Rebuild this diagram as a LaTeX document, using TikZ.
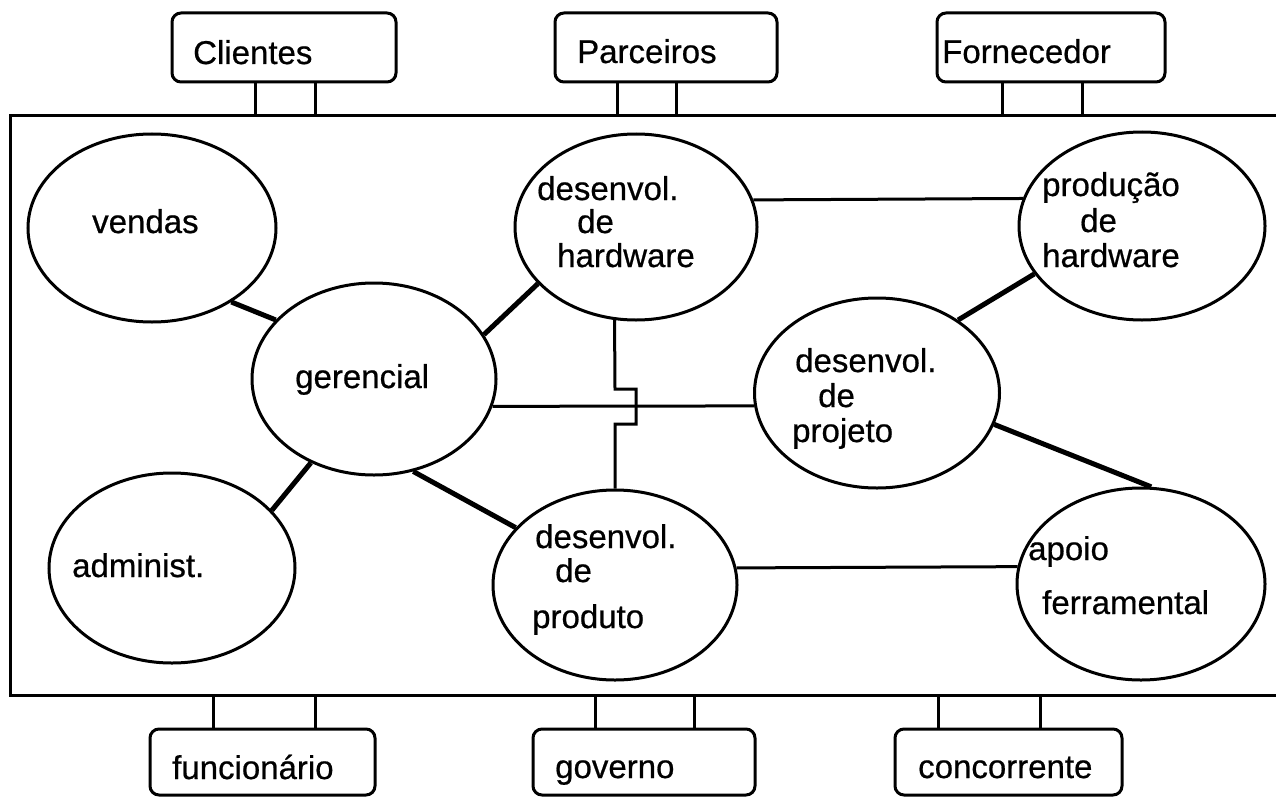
\documentclass[tikz,border=0pt]{standalone}
\usepackage{fontspec}
\setmainfont{Liberation Sans}
\newfontfamily\heavysans{Liberation Sans}[FakeBold=0.6]
\usetikzlibrary{shapes.geometric,calc}
\begin{document}
\begin{tikzpicture}[x=1pt,y=-1pt,
  oval/.style={draw, ellipse, line width=3pt, inner sep=0pt},
  ebox/.style={draw, rectangle, rounded corners=9pt, line width=3pt, inner sep=0pt},
  txt/.style={anchor=base west, inner sep=0pt, font=\heavysans\fontsize{33}{40}\selectfont},
  thinline/.style={line width=3pt},
  thickline/.style={line width=5pt}]
\useasboundingbox (0,0) rectangle (1276,797);

% frame (right side open)
\draw[thinline] (1276,116) -- (10,116) -- (10,695) -- (1276,695);

% top boxes
\node[ebox, minimum width=224pt, minimum height=69pt] (clientes) at (284,47.5) {};
\node[ebox, minimum width=222pt, minimum height=69pt] (parceiros) at (666,47.5) {};
\node[ebox, minimum width=228pt, minimum height=69pt] (fornecedor) at (1051,47.5) {};
\node[txt] (tclientes) at (193,64) {Clientes};
\node[txt] (tparceiros) at (577,63) {Parceiros};
\node[txt] (tfornecedor) at (942,63) {Fornecedor};
\draw[thinline] (clientes.south) ++(-29,0) -- ++(0,34);
\draw[thinline] (clientes.south) ++(31,0) -- ++(0,34);
\draw[thinline] (parceiros.south) ++(-49,0) -- ++(0,34);
\draw[thinline] (parceiros.south) ++(10,0) -- ++(0,34);
\draw[thinline] (fornecedor.south) ++(-49,0) -- ++(0,34);
\draw[thinline] (fornecedor.south) ++(31,0) -- ++(0,34);

% bottom boxes
\node[ebox, minimum width=225pt, minimum height=66pt] (funcionario) at (262.5,762) {};
\node[ebox, minimum width=222pt, minimum height=66pt] (governo) at (644,762) {};
\node[ebox, minimum width=227pt, minimum height=66pt] (concorrente) at (1008.5,762) {};
\node[txt] (tfuncionario) at (172,779) {funcionário};
\node[txt] (tgoverno) at (555,778) {governo};
\node[txt] (tconcorrente) at (918,778) {concorrente};
\draw[thinline] (funcionario.north) ++(-49.5,0) -- ++(0,-34);
\draw[thinline] (funcionario.north) ++(52.5,0) -- ++(0,-34);
\draw[thinline] (governo.north) ++(-49,0) -- ++(0,-34);
\draw[thinline] (governo.north) ++(50,0) -- ++(0,-34);
\draw[thinline] (concorrente.north) ++(-70.5,0) -- ++(0,-34);
\draw[thinline] (concorrente.north) ++(31.5,0) -- ++(0,-34);

% ellipses
\node[oval, minimum width=248pt, minimum height=188pt] (vendas) at (152,228) {};
\node[oval, minimum width=244pt, minimum height=192pt] (gerencial) at (374,379) {};
\node[oval, minimum width=246pt, minimum height=190pt] (administ) at (172,568) {};
\node[oval, minimum width=242pt, minimum height=186pt] (dh) at (636,227) {};
\node[oval, minimum width=246pt, minimum height=188pt] (ph) at (1142,226) {};
\node[oval, minimum width=245pt, minimum height=190pt] (dp) at (877,393) {};
\node[oval, minimum width=244pt, minimum height=190pt] (produto) at (615,585) {};
\node[oval, minimum width=248pt, minimum height=192pt] (apoio) at (1141,584) {};

% ellipse texts
\node[txt] (tvendas) at (92,233) {vendas};
\node[txt] (tgerencial) at (295,388) {gerencial};
\node[txt] (tadminist) at (72,577) {administ.};
\node[txt] (tdh1) at (537,200) {desenvol.};
\node[txt] (tdh2) at (577,233) {de};
\node[txt] (tdh3) at (557,267) {hardware};
\node[txt] (tph1) at (1042,196) {produção};
\node[txt] (tph2) at (1080,232) {de};
\node[txt] (tph3) at (1042,267) {hardware};
\node[txt] (tdp1) at (795,372) {desenvol.};
\node[txt] (tdp2) at (818,407) {de};
\node[txt] (tdp3) at (792,442) {projeto};
\node[txt] (tpr1) at (535,548) {desenvol.};
\node[txt] (tpr2) at (555,582) {de};
\node[txt] (tpr3) at (532,628) {produto};
\node[txt] (tap1) at (1028,560) {apoio};
\node[txt] (tap2) at (1042,614) {ferramental};

% connectors
\draw[thickline] (vendas.-43) -- (gerencial.149);
\draw[thickline] (gerencial.22) -- (dh.-150);
\draw[thickline] (gerencial.-127) -- (administ.30);
\draw[thickline] (gerencial.-67) -- (produto.150);
\draw[thinline] (gerencial.-13.5) -- (dp.-174);
\draw[thinline] (dh.-103) -- (615,389) -- (636,389) -- (636,424) -- (615,424) -- (produto.north);
\draw[thinline] (dh.13.7) -- (ph.167);
\draw[thickline] (dp.42) -- (ph.-156);
\draw[thickline] (dp.-15) -- (apoio.84);
\draw[thinline] (produto.8.5) -- (apoio.172);
\end{tikzpicture}
\end{document}
